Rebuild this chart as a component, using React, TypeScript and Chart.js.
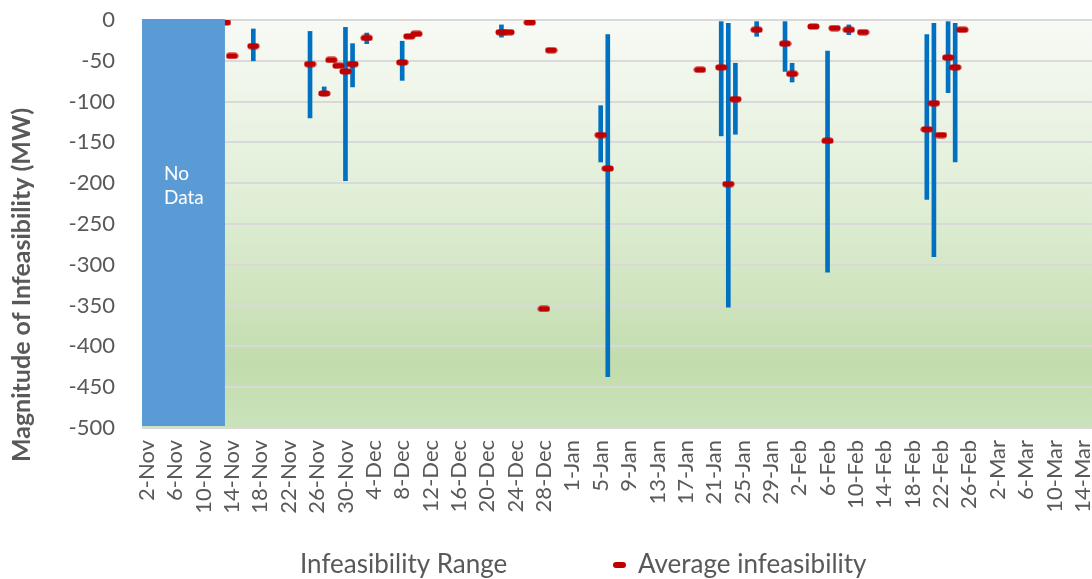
import React, { useEffect, useRef } from "react";
import { Chart, registerables } from "chart.js";

Chart.register(...registerables);

// Season start: day index 0 is 2-Nov (non-leap February follows).
const SEASON_START = { year: 2020, month: 10, day: 2 };
const MONTHS = ["Jan", "Feb", "Mar", "Apr", "May", "Jun", "Jul", "Aug", "Sep", "Oct", "Nov", "Dec"];

// Date axis ticks, every four days
const tickLabels = [
  "2-Nov", "6-Nov", "10-Nov", "14-Nov", "18-Nov", "22-Nov", "26-Nov", "30-Nov",
  "4-Dec", "8-Dec", "12-Dec", "16-Dec", "20-Dec", "24-Dec", "28-Dec",
  "1-Jan", "5-Jan", "9-Jan", "13-Jan", "17-Jan", "21-Jan", "25-Jan", "29-Jan",
  "2-Feb", "6-Feb", "10-Feb", "14-Feb", "18-Feb", "22-Feb", "26-Feb",
  "2-Mar", "6-Mar", "10-Mar", "14-Mar",
];

// Infeasibility range (MW): lowest and highest value of each day
const rangeDates = [
  "17-Nov", "25-Nov", "27-Nov", "30-Nov", "1-Dec", "3-Dec", "8-Dec", "22-Dec",
  "5-Jan", "6-Jan", "22-Jan", "23-Jan", "24-Jan", "27-Jan", "31-Jan", "1-Feb",
  "6-Feb", "9-Feb", "20-Feb", "21-Feb", "23-Feb", "24-Feb",
];
const rangeLow = [
  -50, -120, -93, -197, -82, -29, -74, -21,
  -174, -437, -142, -352, -140, -20, -63, -76,
  -309, -18, -220, -290, -89, -174,
];
const rangeHigh = [
  -11, -14, -82, -9, -29, -16, -26, -6,
  -105, -18, -2, -4, -53, -2, -2, -53,
  -38, -6, -18, -4, -2, -4,
];

// Average infeasibility (MW) per day
const avgDates = [
  "13-Nov", "14-Nov", "17-Nov", "25-Nov", "27-Nov", "28-Nov", "29-Nov", "30-Nov",
  "1-Dec", "3-Dec", "8-Dec", "9-Dec", "10-Dec", "22-Dec", "23-Dec", "26-Dec",
  "28-Dec", "29-Dec", "5-Jan", "6-Jan", "19-Jan", "22-Jan", "23-Jan", "24-Jan",
  "27-Jan", "31-Jan", "1-Feb", "4-Feb", "6-Feb", "7-Feb", "9-Feb", "11-Feb",
  "20-Feb", "21-Feb", "22-Feb", "23-Feb", "24-Feb", "25-Feb",
];
const avgValues = [
  -3, -44, -32, -54, -90, -49, -56, -63,
  -54, -22, -52, -20, -17, -15, -15, -3,
  -354, -37, -141, -182, -61, -58, -201, -97,
  -12, -29, -66, -8, -148, -10, -12, -15,
  -134, -102, -141, -46, -58, -12,
];

// Period without data: from the axis start up to this day
const noDataEnd = "13-Nov";
const noDataLabel = ["No", "Data"];

const yTicks = [0, -50, -100, -150, -200, -250, -300, -350, -400, -450, -500];
const yTitle = "Magnitude of Infeasibility (MW)";
const legendLabels = ["Infeasibility Range", "Average infeasibility"];

const FONT = "Lato, 'Open Sans', sans-serif";
const TEXT = "#595959";
const BLUE = "#0070c0";
const RED = "#c00000";

const startMs = Date.UTC(SEASON_START.year, SEASON_START.month, SEASON_START.day);

function dayIndex(label: string): number {
  const [d, m] = label.split("-");
  const month = MONTHS.indexOf(m);
  const year = month >= 10 ? SEASON_START.year : SEASON_START.year + 1;
  return Math.round((Date.UTC(year, month, Number(d)) - startMs) / 86400000);
}

function dayLabel(idx: number): string {
  const dt = new Date(startMs + idx * 86400000);
  return `${dt.getUTCDate()}-${MONTHS[dt.getUTCMonth()]}`;
}

function makeDash(): HTMLCanvasElement {
  const c = document.createElement("canvas");
  c.width = 13;
  c.height = 7;
  const g = c.getContext("2d")!;
  g.fillStyle = RED;
  g.beginPath();
  g.roundRect(0.5, 0.5, 12, 6, 3);
  g.fill();
  return c;
}

const backgroundPlugin = {
  id: "plotGradient",
  beforeDraw(chart: any) {
    const { ctx, chartArea: a } = chart;
    const grad = ctx.createLinearGradient(0, a.top, 0, a.bottom);
    grad.addColorStop(0, "#f8faf5");
    grad.addColorStop(0.45, "#e0eed6");
    grad.addColorStop(0.85, "#c2dcad");
    grad.addColorStop(1, "#cbe3bc");
    ctx.save();
    ctx.fillStyle = grad;
    ctx.fillRect(a.left, a.top, a.right - a.left, a.bottom - a.top);
    ctx.restore();
  },
};

const noDataPlugin = {
  id: "noDataBlock",
  afterDatasetsDraw(chart: any) {
    const { ctx, chartArea: a, scales } = chart;
    const x1 = scales.x.getPixelForValue(dayIndex(noDataEnd));
    const yTop = scales.y.getPixelForValue(0) - 1;
    const yBot = scales.y.getPixelForValue(-500) - 2;
    ctx.save();
    ctx.fillStyle = "#5b9bd5";
    ctx.fillRect(a.left, yTop, x1 - a.left, yBot - yTop);
    ctx.fillStyle = "#ffffff";
    ctx.font = `19px ${FONT}`;
    ctx.textAlign = "left";
    ctx.textBaseline = "alphabetic";
    noDataLabel.forEach((t, i) => ctx.fillText(t, a.left + 22, yTop + 161 + i * 24));
    ctx.restore();
  },
};

const textPlugin = {
  id: "axisTitleAndLegend",
  afterDraw(chart: any) {
    const { ctx } = chart;
    ctx.save();
    // vertical axis title
    ctx.translate(22, 285);
    ctx.rotate(-Math.PI / 2);
    ctx.font = `bold 25px ${FONT}`;
    ctx.fillStyle = TEXT;
    ctx.textAlign = "center";
    ctx.textBaseline = "middle";
    ctx.fillText(yTitle, 0, 0);
    ctx.restore();

    // legend
    const y = 565;
    ctx.save();
    ctx.font = `26px ${FONT}`;
    ctx.fillStyle = TEXT;
    ctx.textAlign = "left";
    ctx.textBaseline = "middle";
    ctx.fillText(legendLabels[0], 300, y);
    ctx.fillStyle = RED;
    ctx.beginPath();
    ctx.roundRect(613, y - 3, 13, 6, 3);
    ctx.fill();
    ctx.fillStyle = TEXT;
    ctx.fillText(legendLabels[1], 638, y);
    ctx.restore();
  },
};

export default function App() {
  const ref = useRef<HTMLCanvasElement | null>(null);

  useEffect(() => {
    if (!ref.current) return;
    const rangeData = rangeDates.map((d, i) => ({ x: dayIndex(d), y: [rangeLow[i], rangeHigh[i]] }));
    const avgData = avgDates.map((d, i) => ({ x: dayIndex(d), y: avgValues[i] }));
    const tickDays = tickLabels.map(dayIndex);

    const chart = new Chart(ref.current, {
      type: "bar",
      data: {
        datasets: [
          {
            type: "line",
            label: legendLabels[1],
            data: avgData as any,
            showLine: false,
            pointStyle: makeDash() as any,
            pointRadius: 6,
            pointHoverRadius: 6,
            order: 0,
          },
          {
            type: "bar",
            label: legendLabels[0],
            data: rangeData as any,
            backgroundColor: BLUE,
            barThickness: 4,
            order: 1,
          },
        ],
      },
      options: {
        animation: false,
        responsive: true,
        maintainAspectRatio: false,
        layout: { autoPadding: false, padding: { top: 20, left: 0, right: 0, bottom: 0 } },
        plugins: { legend: { display: false }, tooltip: { enabled: false } },
        scales: {
          x: {
            type: "linear",
            offset: false,
            min: -0.7,
            max: 133.3,
            grid: { display: false, drawTicks: false },
            border: { display: false },
            afterBuildTicks: (s: any) => {
              s.ticks = tickDays.map((v) => ({ value: v }));
            },
            afterFit: (s: any) => {
              s.height = 151;
              s.paddingLeft = 0;
              s.paddingRight = 0;
            },
            ticks: {
              autoSkip: false,
              minRotation: 90,
              maxRotation: 90,
              padding: 12,
              color: TEXT,
              font: { family: FONT, size: 22 },
              callback: (v: any) => dayLabel(Number(v)),
            },
          },
          y: {
            min: -500,
            max: 0,
            afterBuildTicks: (s: any) => {
              s.ticks = yTicks.map((v) => ({ value: v }));
            },
            afterFit: (s: any) => {
              s.width = 142;
              s.paddingTop = 0;
              s.paddingBottom = 0;
            },
            grid: { color: "#d9d9d9", lineWidth: 2, drawTicks: false },
            border: { display: false },
            ticks: {
              padding: 27,
              color: TEXT,
              font: { family: FONT, size: 22 },
            },
          },
        },
      },
      plugins: [backgroundPlugin, noDataPlugin, textPlugin],
    });
    return () => chart.destroy();
  }, []);

  return (
    <div style={{ position: "absolute", left: 0, top: 0, width: 1092, height: 579, background: "#ffffff" }}>
      <canvas ref={ref} />
    </div>
  );
}
